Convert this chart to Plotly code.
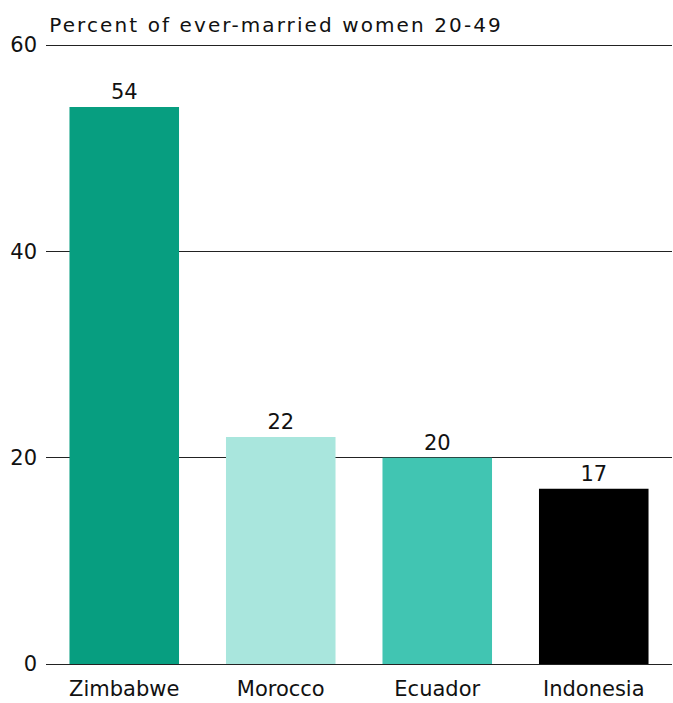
import plotly.graph_objects as go

countries = ['Zimbabwe', 'Morocco', 'Ecuador', 'Indonesia']
values = [54, 22, 20, 17]
colors = ['#079e80', '#a9e6dd', '#41c5b2', '#000000']
y_ticks = [0, 20, 40, 60]

fig = go.Figure(go.Bar(
    x=countries,
    y=values,
    marker=dict(color=colors, line=dict(width=0)),
    text=[str(v) for v in values],
    textposition='outside',
    textfont=dict(size=21, color='#111111'),
    cliponaxis=False,
))

fig.update_layout(
    width=673, height=703,
    margin=dict(l=46, r=1, t=44, b=39),
    paper_bgcolor='white',
    plot_bgcolor='white',
    font=dict(family='DejaVu Sans, sans-serif', size=21, color='#111111'),
    bargap=0.3,
    showlegend=False,
    xaxis=dict(showgrid=False, showline=False, ticks='', automargin=False,
               ticklabelstandoff=10, tickfont=dict(size=21)),
    yaxis=dict(range=[0, 60.1], tickvals=y_ticks, showgrid=True,
               gridcolor='#222222', gridwidth=1, zeroline=True,
               zerolinecolor='#222222', zerolinewidth=1, automargin=False,
               ticks='', ticklabelstandoff=8, tickfont=dict(size=21)),
    annotations=[dict(
        text='Percent of ever-married women 20-49',
        xref='paper', yref='paper', x=0, y=1,
        xanchor='left', yanchor='bottom', yshift=5, xshift=38,
        showarrow=False, font=dict(size=20),
    )],
)

# no page margin; the printed title is set with wide letter spacing
js = ("document.body.style.margin='0';"
      "document.querySelectorAll('.annotation-text').forEach(function(t){t.style.letterSpacing='2.1px';});")
fig.write_html('out.html', post_script=js, config={'displayModeBar': False})
